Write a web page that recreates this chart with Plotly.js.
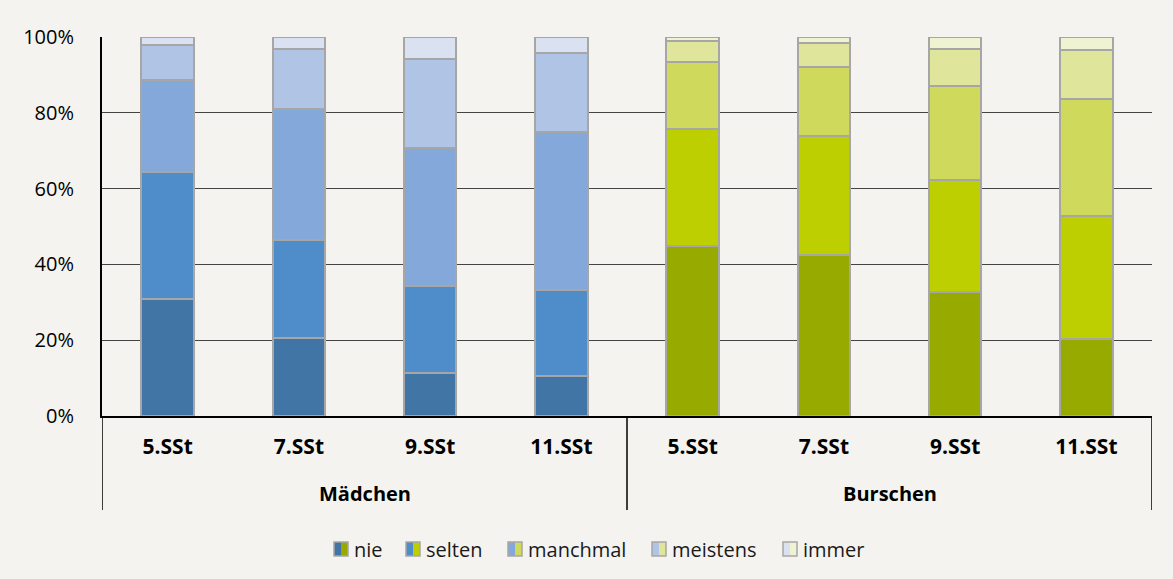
<!DOCTYPE html>
<html>
<head>
<meta charset="utf-8">
<script src="https://cdn.plot.ly/plotly-3.0.1.min.js"></script>
<style>
  html, body { margin: 0; padding: 0; background: #f4f3ef; }
  #chart { width: 1173px; height: 579px; }
</style>
</head>
<body>
<div id="chart"></div>
<script>
// Categories: gender group (outer level) and school grade (inner level)
const groups = ['Mädchen', 'Mädchen', 'Mädchen', 'Mädchen', 'Burschen', 'Burschen', 'Burschen', 'Burschen'];
const grades = ['5.SSt', '7.SSt', '9.SSt', '11.SSt', '5.SSt', '7.SSt', '9.SSt', '11.SSt'];

// Answer categories, stacked bottom to top
const seriesNames = ['nie', 'selten', 'manchmal', 'meistens', 'immer'];

// Shares in percent per bar
const nie      = [30.8, 20.7, 11.4, 10.6, 44.9, 42.6, 32.7, 20.4];
const selten   = [33.7, 25.8, 22.8, 22.7, 30.9, 31.4, 29.6, 32.4];
const manchmal = [24.1, 34.5, 36.6, 41.6, 17.6, 18.2, 24.8, 30.8];
const meistens = [ 9.3, 15.9, 23.4, 21.0,  5.5,  6.3,  9.7, 12.9];
const immer    = [ 2.1,  3.1,  5.8,  4.1,  1.1,  1.5,  3.2,  3.5];

const seriesValues = [nie, selten, manchmal, meistens, immer];

// Blue shades for girls, green shades for boys
const girlColors = ['#4175a6', '#4e8dc9', '#84a8da', '#b0c4e6', '#dae2f2'];
const boyColors  = ['#97aa00', '#bdcf00', '#cfd95c', '#dfe69c', '#eff3d2'];

const FONT = 'Open Sans, sans-serif';
const W = 1173, H = 579;
const M = { l: 102, r: 21, t: 37, b: 163 };
const plotW = W - M.l - M.r, plotH = H - M.t - M.b;

// One slot per bar on the x axis
const slots = grades.map((_, i) => i);

const traces = seriesNames.map((name, s) => ({
  type: 'bar',
  name: name,
  x: slots,
  y: seriesValues[s],
  width: 0.4,
  marker: {
    color: groups.map(g => g === 'Mädchen' ? girlColors[s] : boyColors[s]),
    line: { color: '#a6a6a6', width: 2 }
  },
  customdata: groups.map((g, i) => g + ' ' + grades[i]),
  hovertemplate: '%{customdata}<br>' + name + ': %{y}%<extra></extra>'
}));

// Pixel helpers for the items drawn below the plot area
const px2y = py => (H - M.b - py) / plotH;
const px2x = px => (px - M.l) / plotW;

const shapes = [];
const annotations = [];

// Group labels and the vertical dividers that frame each group
const groupNames = [...new Set(groups)];
const groupBounds = [];
groupNames.forEach(g => {
  const idx = slots.filter(i => groups[i] === g);
  const lo = Math.min(...idx) - 0.5, hi = Math.max(...idx) + 0.5;
  groupBounds.push(lo, hi);
  annotations.push({
    xref: 'x', yref: 'paper',
    x: (lo + hi) / 2, y: px2y(493),
    xanchor: 'center', yanchor: 'middle',
    text: g, showarrow: false,
    font: { family: FONT, size: 20, weight: 'bold', color: '#000' }
  });
});
[...new Set(groupBounds)].forEach(b => {
  shapes.push({
    type: 'line', xref: 'x', yref: 'paper',
    x0: b, x1: b, y0: 0, y1: px2y(510),
    line: { color: '#000', width: 1.5 }
  });
});

// Legend with split swatches (girls colour | boys colour)
const legendSwatchLeft = [334, 406, 508, 652, 783];
const legendY = 549;
const sw = 14;
seriesNames.forEach((name, s) => {
  const x0 = legendSwatchLeft[s];
  const yb = px2y(legendY + sw / 2), yt = px2y(legendY - sw / 2);
  shapes.push({
    type: 'rect', xref: 'paper', yref: 'paper', layer: 'above',
    x0: px2x(x0), x1: px2x(x0 + sw / 2), y0: yb, y1: yt,
    fillcolor: girlColors[s], line: { width: 0 }
  });
  shapes.push({
    type: 'rect', xref: 'paper', yref: 'paper', layer: 'above',
    x0: px2x(x0 + sw / 2), x1: px2x(x0 + sw), y0: yb, y1: yt,
    fillcolor: boyColors[s], line: { width: 0 }
  });
  shapes.push({
    type: 'rect', xref: 'paper', yref: 'paper', layer: 'above',
    x0: px2x(x0), x1: px2x(x0 + sw), y0: yb, y1: yt,
    fillcolor: 'rgba(0,0,0,0)', line: { color: '#a6a6a6', width: 1.5 }
  });
  annotations.push({
    xref: 'paper', yref: 'paper',
    x: px2x(x0 + sw + 4), y: px2y(legendY),
    xanchor: 'left', yanchor: 'middle',
    text: name, showarrow: false,
    font: { family: FONT, size: 20, color: '#1a1a1a' }
  });
});

const layout = {
  width: W, height: H,
  margin: M,
  paper_bgcolor: '#f4f3ef',
  plot_bgcolor: '#f4f3ef',
  barmode: 'stack',
  showlegend: false,
  font: { family: FONT, size: 20, color: '#000' },
  xaxis: {
    type: 'linear',
    range: [-0.5, slots.length - 0.5],
    tickvals: slots,
    ticktext: grades,
    showline: true, linecolor: '#000', linewidth: 2,
    showgrid: false, zeroline: false,
    ticks: '',
    ticklabelstandoff: 11,
    tickfont: { family: FONT, size: 21, weight: 'bold', color: '#000' }
  },
  yaxis: {
    range: [0, 100],
    dtick: 20,
    ticksuffix: '%',
    showline: true, linecolor: '#000', linewidth: 2,
    showgrid: true, gridcolor: '#444', gridwidth: 1,
    zeroline: false,
    ticks: '',
    ticklabelstandoff: 22,
    tickfont: { family: FONT, size: 20, color: '#000' }
  },
  shapes: shapes,
  annotations: annotations
};

Plotly.newPlot('chart', traces, layout, { displayModeBar: false, staticPlot: true });
</script>
</body>
</html>
